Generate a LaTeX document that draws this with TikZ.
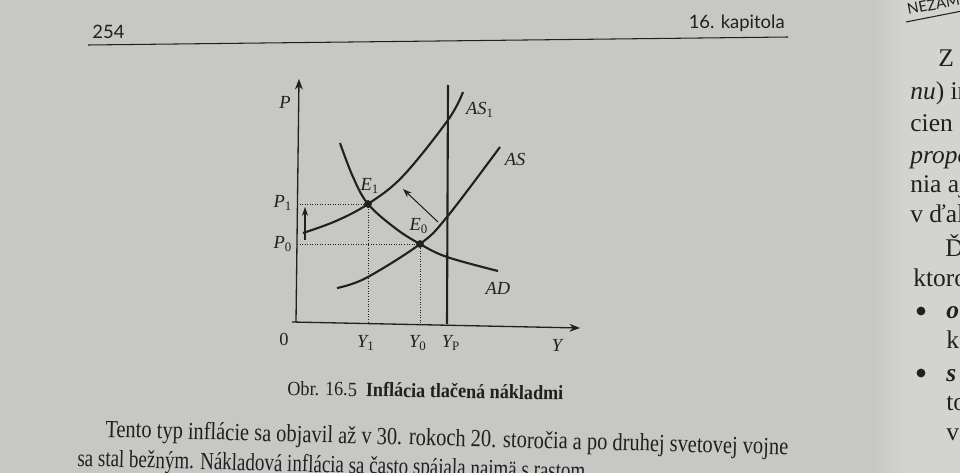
\documentclass[tikz,border=0pt]{standalone}
\usepackage{fontspec}
\setmainfont{Liberation Serif}
\newfontfamily\headfont{Lato}
\usetikzlibrary{arrows.meta}
\definecolor{pageGray}{RGB}{199,199,196}
\definecolor{pageLight}{RGB}{211,211,208}
\definecolor{inkDark}{RGB}{32,32,32}
\newcommand{\fitline}[2]{\resizebox{#1}{\height}{#2}}
\newcommand{\Lab}[2]{\textit{#1}\textsubscript{\upshape #2}}

\begin{document}
\begin{tikzpicture}[x=0.02cm,y=-0.02cm,line cap=butt,
  axis/.style={inkDark,line width=0.75pt,-{Stealth[length=6pt,width=4.5pt]}},
  curve/.style={inkDark,line width=1.2pt},
  guide/.style={inkDark,line width=0.45pt,densely dotted},
  shiftarrow/.style={inkDark,line width=0.6pt,-{Stealth[length=5pt,width=3.5pt]}},
  eqpt/.style={circle,fill=inkDark,inner sep=0pt,minimum size=4.4pt},
  lab/.style={inkDark,font=\fontsize{10.5}{12}\selectfont\itshape,inner sep=0pt},
  bodytext/.style={inkDark,inner sep=0pt,anchor=base west},
  righttext/.style={inkDark,inner sep=0pt,anchor=base west,font=\fontsize{14.5}{16}\selectfont}]
  % page background
  \fill[pageGray] (0,0) rectangle (960,473);
  \useasboundingbox (0,0) rectangle (960,473);
  \shade[left color=pageGray,right color=pageLight] (872,0) rectangle (905,473);
  \fill[pageLight] (905,0) rectangle (960,473);
  \begin{scope}
  \clip (0,0) rectangle (960,473);
  % running head
  \node[bodytext,font=\headfont\fontsize{10.5}{12}\selectfont] (pageno) at (92,39) {254};
  \node[bodytext,anchor=base east,font=\headfont\fontsize{10.5}{12}\selectfont] (chapter) at (785,29) {16. kapitola};
  \coordinate (ruleL) at (88,45);
  \coordinate (ruleR) at (788,37);
  \draw[inkDark,line width=0.6pt] (ruleL) -- (ruleR);
  % axes
  \coordinate (O) at (296,322);
  \coordinate (Xstart) at (292,322);
  \coordinate (Xtip) at (580,328);
  \coordinate (Ytip) at (299,79);
  \draw[axis] (O) -- (Ytip);
  \draw[axis] (Xstart) -- (Xtip);
  % potential output
  \coordinate (YPtop) at (448,85);
  \coordinate (YPfoot) at (447,324);
  \draw[curve] (YPtop) -- (YPfoot);
  % equilibria
  \coordinate (E1c) at (368,204);
  \coordinate (E0c) at (420,244);
  \coordinate (P1axis) at (297,204);
  \coordinate (P0axis) at (297,244);
  \coordinate (Y1axis) at (368,323);
  \coordinate (Y0axis) at (420,324);
  \draw[guide] (P1axis) -- (E1c) -- (Y1axis);
  \draw[guide] (P0axis) -- (E0c) -- (Y0axis);
  % curves
  \draw[curve] plot[smooth,tension=0.6] coordinates {(303,233) (336,221) (E1c) (403,176) (448,120) (463,92)};
  \draw[curve] plot[smooth,tension=0.6] coordinates {(337,288) (366,278) (E0c) (447,217) (500,147)};
  \draw[curve] plot[smooth,tension=0.6] coordinates {(340,143) (353,177) (E1c) (395,228) (E0c) (447,257) (498,271)};
  \node[eqpt] (E1) at (E1c) {};
  \node[eqpt] (E0) at (E0c) {};
  % shift arrows
  \coordinate (upFoot) at (305,240);
  \coordinate (upTip) at (305,207);
  \coordinate (diagFoot) at (438,222);
  \coordinate (diagTip) at (403,189);
  \draw[shiftarrow] (upFoot) -- (upTip);
  \draw[shiftarrow] (diagFoot) -- (diagTip);
  % labels
  \node[lab] (labP) at (285,102) {P};
  \node[lab,font=\fontsize{10.5}{12}\selectfont] (labO) at (284,339) {0};
  \node[lab] (labY1) at (366,343) {\Lab{Y}{1}};
  \node[lab] (labY0) at (418,343) {\Lab{Y}{0}};
  \node[lab] (labYP) at (451,343) {\Lab{Y}{P}};
  \node[lab] (labY) at (557,345) {Y};
  \node[lab] (labP1) at (283,203) {\Lab{P}{1}};
  \node[lab] (labP0) at (283,244) {\Lab{P}{0}};
  \node[lab] (labAS1) at (480,110) {\Lab{AS}{1}};
  \node[lab] (labAS) at (515,159) {AS};
  \node[lab] (labAD) at (498,288) {AD};
  \node[lab] (labE1) at (370,186) {\Lab{E}{1}};
  \node[lab] (labE0) at (419,226) {\Lab{E}{0}};
  % caption and text
  \node[bodytext,rotate=-1] (caption) at (287,395)
    {\fitline{5.52cm}{\fontsize{11.5}{13}\selectfont Obr. 16.5\hspace{0.5em}\textbf{Inflácia tlačená nákladmi}}};
  \node[bodytext,rotate=-1.5] (line1) at (105,437)
    {\fitline{13.66cm}{\fontsize{14}{16}\selectfont Tento typ inflácie sa objavil až v 30. rokoch 20. storočia a po druhej svetovej vojne}};
  \node[bodytext,rotate=-1.5] (line2) at (77,466)
    {\fitline{10.16cm}{\fontsize{14}{16}\selectfont sa stal bežným. Nákladová inflácia sa často spájala najmä s rastom}};
  % facing page
  \node[inkDark,inner sep=0pt,anchor=base west,rotate=11,font=\headfont\fontsize{8.5}{10}\selectfont] (nextHead) at (908,15) {NEZAMESTNANOSŤ};
  \coordinate (nextRuleL) at (906,22);
  \coordinate (nextRuleR) at (962,11);
  \draw[inkDark,line width=0.6pt] (nextRuleL) -- (nextRuleR);
  \node[righttext] (r1) at (938,67) {Z};
  \node[righttext] (r2) at (910,100) {\textit{nu}) in};
  \node[righttext] (r3) at (910,132) {cien s};
  \node[righttext] (r4) at (910,163) {\textit{propo}};
  \node[righttext] (r5) at (910,193) {nia aj};
  \node[righttext] (r6) at (910,222) {v ďal};
  \node[righttext] (r7) at (945,256) {Ď};
  \node[righttext] (r8) at (913,286) {ktoro};
  \node[eqpt,minimum size=5pt] (b1) at (921,311) {};
  \node[righttext] (r9) at (946,318) {\textbf{\textit{o}}};
  \node[righttext] (r10) at (946,348) {k};
  \node[eqpt,minimum size=5pt] (b2) at (921,373) {};
  \node[righttext] (r11) at (946,381) {\textbf{\textit{s}}};
  \node[righttext] (r12) at (946,410) {to};
  \node[righttext] (r13) at (946,440) {v};
  \end{scope}
\end{tikzpicture}
\end{document}
